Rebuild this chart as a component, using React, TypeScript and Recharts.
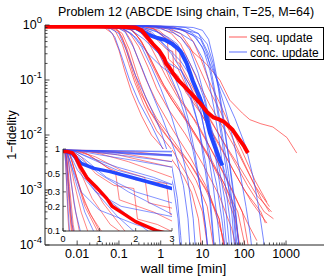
import React from "react";
import { LineChart, Line, XAxis, YAxis, CartesianGrid, Legend } from "recharts";

type Pt = [number, number];

// each run: [wall time (min), 1-fidelity]
const seqRuns: Pt[][] = [
  [[0.0017, 0.97], [0.04, 0.95], [0.07, 0.7], [0.1, 0.35], [0.14, 0.14], [0.2, 0.06], [0.35, 0.022], [0.6, 0.01], [1.5, 0.0045], [3.5, 0.0018], [5.5, 0.0009], [8, 0.0003], [10, 0.00006]],
  [[0.0017, 0.96], [0.05, 0.94], [0.08, 0.8], [0.12, 0.45], [0.17, 0.2], [0.24, 0.09], [0.4, 0.035], [0.8, 0.012], [2, 0.005], [6, 0.0012], [10, 0.0004], [14, 0.00007]],
  [[0.0017, 0.97], [0.06, 0.95], [0.1, 0.75], [0.15, 0.4], [0.22, 0.16], [0.3, 0.08], [0.5, 0.03], [1, 0.013], [3, 0.0045], [7, 0.0015], [13, 0.0005], [20, 0.00006]],
  [[0.0017, 0.96], [0.07, 0.94], [0.12, 0.7], [0.18, 0.35], [0.28, 0.12], [0.45, 0.045], [0.8, 0.02], [2, 0.008], [6, 0.0025], [15, 0.0008], [30, 0.00015], [40, 0.00006]],
  [[0.0017, 0.97], [0.08, 0.95], [0.14, 0.78], [0.2, 0.5], [0.3, 0.22], [0.45, 0.1], [0.8, 0.04], [2, 0.012], [5, 0.004], [12, 0.0012], [25, 0.0003], [35, 0.00007]],
  [[0.0017, 0.97], [0.1, 0.94], [0.18, 0.72], [0.3, 0.4], [0.5, 0.17], [0.8, 0.07], [1.5, 0.03], [4, 0.01], [10, 0.003], [25, 0.0008], [50, 0.0002], [70, 0.00007]],
  [[0.0017, 0.96], [0.12, 0.95], [0.2, 0.85], [0.35, 0.5], [0.6, 0.22], [1, 0.1], [1.8, 0.045], [4, 0.018], [10, 0.006], [30, 0.0015], [70, 0.0004], [110, 0.00008]],
  [[0.0017, 0.97], [0.15, 0.95], [0.3, 0.8], [0.5, 0.5], [0.8, 0.25], [1.3, 0.12], [2.5, 0.05], [6, 0.02], [15, 0.006], [40, 0.0015], [90, 0.0004], [130, 0.00008]],
  [[0.0017, 0.96], [0.2, 0.94], [0.4, 0.75], [0.7, 0.45], [1.1, 0.22], [1.7, 0.1], [3, 0.045], [8, 0.015], [20, 0.004], [50, 0.001], [120, 0.00025], [200, 0.00012]],
  [[0.0017, 0.97], [0.25, 0.95], [0.5, 0.8], [0.9, 0.5], [1.4, 0.36], [1.95, 0.33], [2.05, 0.14], [2.6, 0.12], [4, 0.06], [9, 0.025], [25, 0.007], [60, 0.002], [150, 0.0006], [350, 0.00025]],
  [[0.0017, 0.96], [0.3, 0.95], [0.7, 0.85], [1.2, 0.6], [2, 0.42], [2.85, 0.38], [2.95, 0.16], [3.5, 0.13], [6, 0.06], [12, 0.025], [30, 0.008], [80, 0.0025], [200, 0.0008], [450, 0.0004]],
  [[0.0017, 0.97], [0.4, 0.95], [0.9, 0.8], [1.6, 0.55], [2.25, 0.45], [2.35, 0.22], [3, 0.19], [5, 0.09], [10, 0.035], [22, 0.012], [50, 0.004], [120, 0.0012], [300, 0.0004], [500, 0.0003]],
  [[0.0017, 0.97], [0.5, 0.95], [1.5, 0.85], [3, 0.6], [6, 0.32], [12, 0.2], [26, 0.1], [45, 0.043], [90, 0.025], [136, 0.019], [250, 0.016], [484, 0.014], [1050, 0.009], [1800, 0.0047]],
  [[0.0017, 0.96], [0.6, 0.95], [1.5, 0.9], [3, 0.7], [5, 0.4], [8, 0.18], [14, 0.07], [28, 0.025], [60, 0.007], [130, 0.002], [250, 0.0007], [400, 0.0004]],
  [[0.0017, 0.97], [0.1, 0.95], [0.2, 0.8], [0.32, 0.55], [0.5, 0.3], [0.75, 0.16], [1.2, 0.08], [2.5, 0.035], [6, 0.012], [15, 0.004], [35, 0.0012], [60, 0.0004], [80, 0.00008]],
  [[0.0017, 0.96], [0.15, 0.95], [0.25, 0.7], [0.4, 0.4], [0.6, 0.2], [1, 0.09], [2, 0.04], [5, 0.015], [12, 0.005], [30, 0.0013], [60, 0.0003], [80, 0.00008]],
  [[0.0017, 0.97], [0.3, 0.96], [0.6, 0.9], [1, 0.7], [1.45, 0.5], [1.55, 0.24], [2.5, 0.17], [4, 0.08], [8, 0.03], [18, 0.01], [45, 0.003], [100, 0.001], [250, 0.0004], [320, 0.00025]],
  [[0.0017, 0.96], [0.08, 0.94], [0.12, 0.6], [0.16, 0.3], [0.22, 0.13], [0.32, 0.06], [0.6, 0.025], [1.5, 0.009], [5, 0.003], [12, 0.001], [25, 0.0003], [35, 0.00007]],
  [[0.0017, 0.97], [0.8, 0.96], [2, 0.92], [4, 0.75], [6, 0.5], [9, 0.25], [14, 0.1], [25, 0.04], [45, 0.015], [90, 0.005], [180, 0.0015], [350, 0.0006]],
  [[0.0017, 0.97], [0.5, 0.96], [1, 0.88], [1.8, 0.7], [3, 0.45], [5, 0.2], [8, 0.09], [15, 0.035], [35, 0.012], [80, 0.004], [180, 0.0012], [400, 0.0005]],
];

const concRuns: Pt[][] = [
  [[0.0017, 0.97], [0.05, 0.95], [0.1, 0.7], [0.15, 0.35], [0.25, 0.12], [0.5, 0.04], [1, 0.012], [1.8, 0.003], [2.5, 0.0007], [3, 0.00015], [3.3, 0.00006]],
  [[0.0017, 0.97], [0.08, 0.95], [0.14, 0.75], [0.22, 0.4], [0.35, 0.17], [0.6, 0.06], [1.1, 0.02], [2.2, 0.005], [3.5, 0.0012], [4.5, 0.0003], [5.2, 0.00006]],
  [[0.0017, 0.96], [0.1, 0.94], [0.2, 0.7], [0.35, 0.4], [0.6, 0.17], [1, 0.07], [1.8, 0.022], [3, 0.006], [4.5, 0.0015], [6, 0.0003], [7, 0.00006]],
  [[0.0017, 0.97], [0.15, 0.95], [0.3, 0.8], [0.5, 0.55], [0.9, 0.3], [1.5, 0.15], [2.5, 0.06], [4, 0.02], [6, 0.005], [9, 0.001], [12, 0.0002], [14, 0.00006]],
  [[0.0017, 0.97], [0.2, 0.95], [0.5, 0.75], [1, 0.5], [1.8, 0.3], [3, 0.16], [5, 0.06], [8, 0.015], [11, 0.003], [15, 0.0006], [19, 0.00008]],
  [[0.0017, 0.96], [0.3, 0.94], [0.7, 0.8], [1.5, 0.6], [2.5, 0.45], [4, 0.25], [6, 0.1], [9, 0.03], [13, 0.006], [18, 0.0012], [24, 0.0002], [28, 0.00006]],
  [[0.0017, 0.97], [0.4, 0.95], [1, 0.85], [2, 0.72], [3, 0.6], [5, 0.35], [8, 0.13], [12, 0.04], [18, 0.008], [25, 0.0015], [33, 0.0003], [40, 0.00006]],
  [[0.0017, 0.97], [0.5, 0.95], [1.2, 0.9], [3, 0.82], [6, 0.65], [10, 0.4], [15, 0.15], [20, 0.05], [28, 0.01], [38, 0.002], [50, 0.0004], [60, 0.00007]],
  [[0.0017, 0.97], [0.6, 0.96], [2, 0.88], [3, 0.85], [8, 0.7], [13, 0.45], [18, 0.2], [24, 0.07], [32, 0.015], [45, 0.003], [60, 0.0006], [75, 0.00008]],
  [[0.0017, 0.96], [0.3, 0.95], [0.8, 0.75], [1.5, 0.55], [2.5, 0.42], [4, 0.28], [7, 0.12], [11, 0.045], [16, 0.012], [24, 0.003], [35, 0.0006], [45, 0.00008]],
  [[0.0017, 0.97], [0.1, 0.95], [0.25, 0.6], [0.5, 0.3], [1, 0.18], [2, 0.12], [3, 0.09], [5, 0.05], [8, 0.015], [12, 0.003], [16, 0.0005], [20, 0.00006]],
  [[0.0017, 0.97], [0.15, 0.94], [0.4, 0.55], [0.9, 0.3], [1.6, 0.2], [3, 0.15], [5, 0.08], [9, 0.025], [14, 0.006], [22, 0.0012], [30, 0.00025], [36, 0.00006]],
  [[0.0017, 0.96], [0.25, 0.95], [0.6, 0.75], [1.2, 0.45], [2, 0.3], [3, 0.22], [6, 0.1], [12, 0.03], [20, 0.008], [35, 0.002], [55, 0.0005], [70, 0.00007]],
  [[0.0017, 0.97], [1, 0.96], [4, 0.9], [8, 0.7], [14, 0.3], [22, 0.1], [35, 0.03], [55, 0.008], [80, 0.002], [110, 0.0005], [140, 0.00015], [160, 0.00006]],
  [[0.0017, 0.97], [1, 0.95], [3, 0.85], [7, 0.6], [12, 0.3], [20, 0.12], [35, 0.05], [60, 0.02], [110, 0.006], [170, 0.0015], [230, 0.0004], [290, 0.00012], [320, 0.00006]],
  [[0.0017, 0.96], [2, 0.95], [6, 0.9], [10, 0.8], [14, 0.55], [18, 0.25], [24, 0.08], [32, 0.02], [42, 0.004], [55, 0.0008], [70, 0.00015], [80, 0.00006]],
  [[0.0017, 0.97], [0.8, 0.95], [2.5, 0.85], [5, 0.75], [9, 0.55], [13, 0.3], [17, 0.12], [22, 0.04], [30, 0.01], [42, 0.002], [55, 0.0004], [65, 0.00007]],
  [[0.0017, 0.97], [0.05, 0.95], [0.08, 0.6], [0.12, 0.25], [0.18, 0.1], [0.3, 0.04], [0.6, 0.015], [1.2, 0.005], [2, 0.0012], [2.6, 0.0003], [3, 0.00006]],
  [[0.0017, 0.96], [0.2, 0.95], [0.4, 0.65], [0.7, 0.4], [1.2, 0.25], [2, 0.13], [3, 0.06], [4.5, 0.02], [6.5, 0.005], [9, 0.001], [12, 0.0002], [14, 0.00006]],
  [[0.0017, 0.97], [0.5, 0.96], [1.5, 0.85], [3, 0.7], [6, 0.5], [10, 0.25], [14, 0.1], [19, 0.03], [25, 0.008], [34, 0.0015], [45, 0.0003], [52, 0.00006]],
];

const seqMedian: Pt[] = [
  [0.0017, 0.93], [0.1, 0.93], [0.25, 0.9], [0.35, 0.8], [0.48, 0.6], [0.65, 0.45], [0.9, 0.35], [1.2, 0.25], [1.35, 0.2], [1.6, 0.17],
  [2, 0.13], [2.6, 0.1], [3.5, 0.08], [5, 0.06], [8.7, 0.038], [13, 0.026], [18, 0.021], [26, 0.019], [34, 0.017], [53, 0.0123],
  [78, 0.0081], [100, 0.0062], [122, 0.0047],
];

const concMedian: Pt[] = [
  [0.0017, 0.97], [0.03, 0.96], [0.1, 0.92], [0.25, 0.88], [0.35, 0.78], [0.5, 0.67], [0.85, 0.58], [1.3, 0.53], [1.9, 0.45], [2.5, 0.38],
  [3, 0.33], [4.2, 0.2], [5.9, 0.095], [8.7, 0.047], [11.4, 0.026], [15, 0.011], [20, 0.006], [26, 0.0035], [30, 0.0028],
];

const legendOrder = ["seq. update", "conc. update"];
const xMajor = [0.01, 0.1, 1, 10, 100, 1000];
const yMajor = [0.0001, 0.001, 0.01, 0.1, 1];
const MINOR = [2, 3, 4, 5, 6, 7, 8, 9];
const insetXTicks = [0, 1, 2, 3];
const insetYTicks = [0.1, 0.2, 0.3, 0.5, 1];

const X_DOMAIN: [number, number] = [0.0017, 8100];
const Y_DOMAIN: [number, number] = [0.0001, 1];

const FONT = '"Liberation Sans", Arial, Helvetica, sans-serif';
const FS = 12.5;
const AXIS = "#222";
const RED_THIN = "rgb(255,50,50)";
const BLUE_THIN = "rgb(50,75,255)";
const RED_THICK = "#ff0000";
const BLUE_THICK = "#2248ff";

const xTicks = xMajor.flatMap((m, i) => (i < xMajor.length - 1 ? [m, ...MINOR.map((k) => k * m)] : [m]));
const yTicks = yMajor.flatMap((m, i) => (i < yMajor.length - 1 ? [m, ...MINOR.map((k) => k * m)] : [m]));

const toRows = (run: Pt[]) => run.map(([t, f]) => ({ t, f }));
const isMajor = (list: number[], v: number) => list.some((m) => Math.abs(v - m) <= m * 1e-9);

function BottomTick(p: any) {
  const { x, y, payload } = p;
  const major = isMajor(xMajor, payload.value);
  return (
    <g>
      <line x1={x} x2={x} y1={y} y2={y - (major ? 4.5 : 2.5)} stroke={AXIS} strokeWidth={0.8} />
      {major && (
        <text x={x} y={y + 13} textAnchor="middle" fontSize={FS} fontFamily={FONT} fill="#000">
          {String(payload.value)}
        </text>
      )}
    </g>
  );
}

function TopTick(p: any) {
  const { x, y, payload } = p;
  const major = isMajor(xMajor, payload.value);
  return <line x1={x} x2={x} y1={y} y2={y + (major ? 4.5 : 2.5)} stroke={AXIS} strokeWidth={0.8} />;
}

function LeftTick(p: any) {
  const { x, y, payload } = p;
  const v = payload.value;
  const major = isMajor(yMajor, v);
  const exp = Math.round(Math.log10(v));
  return (
    <g>
      <line x1={x} x2={x + (major ? 4.5 : 2.5)} y1={y} y2={y} stroke={AXIS} strokeWidth={0.8} />
      {major && (
        <text x={x - 3} y={y + 4} textAnchor="end" fontSize={FS} fontFamily={FONT} fill="#000">
          10
          <tspan dy={-6} fontSize={9.5}>
            {String(exp)}
          </tspan>
        </text>
      )}
    </g>
  );
}

function RightTick(p: any) {
  const { x, y, payload } = p;
  const major = isMajor(yMajor, payload.value);
  return <line x1={x} x2={x - (major ? 4.5 : 2.5)} y1={y} y2={y} stroke={AXIS} strokeWidth={0.8} />;
}

function InsetBottomTick(p: any) {
  const { x, y, payload } = p;
  return (
    <g>
      <line x1={x} x2={x} y1={y} y2={y - 3} stroke={AXIS} strokeWidth={0.7} />
      <text x={x} y={y + 11} textAnchor="middle" fontSize={9} fontFamily={FONT} fill="#000">
        {String(payload.value)}
      </text>
    </g>
  );
}

function InsetTopTick(p: any) {
  const { x, y } = p;
  return <line x1={x} x2={x} y1={y} y2={y + 3} stroke={AXIS} strokeWidth={0.7} />;
}

function InsetLeftTick(p: any) {
  const { x, y, payload } = p;
  return (
    <g>
      <line x1={x} x2={x + 3} y1={y} y2={y} stroke={AXIS} strokeWidth={0.7} />
      <text x={x - 3} y={y + 3.3} textAnchor="end" fontSize={9} fontFamily={FONT} fill="#000">
        {String(payload.value)}
      </text>
    </g>
  );
}

function InsetRightTick(p: any) {
  const { x, y } = p;
  return <line x1={x} x2={x - 3} y1={y} y2={y} stroke={AXIS} strokeWidth={0.7} />;
}

function XTitle(p: any) {
  const vb = p.viewBox;
  return (
    <text x={vb.x + vb.width / 2 - 1} y={vb.y + 28} textAnchor="middle" fontSize={13.5} fontFamily={FONT} fill="#000">
      wall time [min]
    </text>
  );
}

function YTitle(p: any) {
  const vb = p.viewBox;
  const cx = vb.x + 11;
  const cy = vb.y + vb.height / 2;
  return (
    <text x={cx} y={cy} transform={`rotate(-90, ${cx}, ${cy})`} textAnchor="middle" fontSize={FS} fontFamily={FONT} fill="#000">
      1−fidelity
    </text>
  );
}

function LegendBox(p: any) {
  const items = (p.payload || [])
    .filter((e: any) => e.type !== "none")
    .sort((a: any, b: any) => legendOrder.indexOf(a.value) - legendOrder.indexOf(b.value));
  return (
    <svg width={99} height={33} style={{ display: "block" }}>
      <rect x={0.5} y={0.5} width={98} height={32} fill="#fff" stroke="#000" strokeWidth={1} />
      {items.map((e: any, i: number) => (
        <g key={i}>
          <line x1={4} x2={22} y1={10 + i * 15} y2={10 + i * 15} stroke={e.color} strokeOpacity={0.8} strokeWidth={1} />
          <text x={25} y={14.5 + i * 15} fontSize={12} fontFamily={FONT} fill="#000">
            {e.value}
          </text>
        </g>
      ))}
    </svg>
  );
}

function runLines(runs: Pt[][], color: string, name: string, prefix: string, width: number) {
  return runs.map((run, i) => (
    <Line
      key={`${prefix}${i}`}
      data={toRows(run)}
      dataKey="f"
      name={name}
      type="linear"
      stroke={color}
      strokeOpacity={0.75}
      strokeWidth={width}
      dot={false}
      activeDot={false}
      legendType={i === 0 ? "line" : "none"}
      isAnimationActive={false}
    />
  ));
}

function medianLine(run: Pt[], color: string, key: string, width: number) {
  return (
    <Line
      key={key}
      data={toRows(run)}
      dataKey="f"
      type="linear"
      stroke={color}
      strokeWidth={width}
      strokeLinejoin="round"
      dot={false}
      activeDot={false}
      legendType="none"
      isAnimationActive={false}
    />
  );
}

export default function App() {
  return (
    <div style={{ position: "absolute", left: 0, top: 0, width: 332, height: 276, background: "#fff", fontFamily: FONT }}>
      <div style={{ position: "absolute", left: 0, top: 0 }}>
        <LineChart width={332} height={276} margin={{ top: 25, right: 8, bottom: 0, left: 5 }}>
          <XAxis
            type="number"
            dataKey="t"
            scale="log"
            domain={X_DOMAIN}
            allowDataOverflow
            ticks={xTicks}
            interval={0}
            height={31}
            tickSize={0}
            tickMargin={0}
            tickLine={false}
            axisLine={{ stroke: AXIS, strokeWidth: 1 }}
            tick={(p: any) => <BottomTick {...p} />}
            label={(p: any) => <XTitle {...p} />}
          />
          <XAxis
            xAxisId="top"
            orientation="top"
            type="number"
            scale="log"
            domain={X_DOMAIN}
            allowDataOverflow
            ticks={xTicks}
            interval={0}
            height={0}
            tickSize={0}
            tickMargin={0}
            tickLine={false}
            axisLine={{ stroke: AXIS, strokeWidth: 1 }}
            tick={(p: any) => <TopTick {...p} />}
          />
          <YAxis
            type="number"
            scale="log"
            domain={Y_DOMAIN}
            allowDataOverflow
            ticks={yTicks}
            interval={0}
            width={40}
            tickSize={0}
            tickMargin={0}
            tickLine={false}
            axisLine={{ stroke: AXIS, strokeWidth: 1 }}
            tick={(p: any) => <LeftTick {...p} />}
            label={(p: any) => <YTitle {...p} />}
          />
          <YAxis
            yAxisId="right"
            orientation="right"
            type="number"
            scale="log"
            domain={Y_DOMAIN}
            allowDataOverflow
            ticks={yTicks}
            interval={0}
            width={0}
            tickSize={0}
            tickMargin={0}
            tickLine={false}
            axisLine={{ stroke: AXIS, strokeWidth: 1 }}
            tick={(p: any) => <RightTick {...p} />}
          />
          {runLines(seqRuns, RED_THIN, "seq. update", "s", 0.9)}
          {runLines(concRuns, BLUE_THIN, "conc. update", "c", 0.9)}
          {medianLine(concMedian, BLUE_THICK, "cm", 4)}
          {medianLine(seqMedian, RED_THICK, "sm", 4)}
          <Legend
            align="center"
            verticalAlign="middle"
            layout="horizontal"
            wrapperStyle={{ position: "absolute", left: 225, top: 27, width: 99, height: 33, margin: 0, padding: 0 }}
            content={(p: any) => <LegendBox {...p} />}
          />
        </LineChart>
      </div>

      <svg width={332} height={22} style={{ position: "absolute", left: 0, top: 0 }}>
        <text x={186} y={16} textAnchor="middle" fontSize={FS} fontFamily={FONT} fill="#000">
          Problem 12 (ABCDE Ising chain, T=25, M=64)
        </text>
      </svg>

      <div style={{ position: "absolute", left: 40, top: 140 }}>
        <LineChart width={145} height={110} margin={{ top: 9, right: 13, bottom: 0, left: 3 }}>
          <CartesianGrid fill="#fff" fillOpacity={1} horizontal={false} vertical={false} />
          <XAxis
            type="number"
            dataKey="t"
            domain={[0, 3]}
            allowDataOverflow
            ticks={insetXTicks}
            interval={0}
            height={19}
            tickSize={0}
            tickMargin={0}
            tickLine={false}
            axisLine={{ stroke: AXIS, strokeWidth: 0.9 }}
            tick={(p: any) => <InsetBottomTick {...p} />}
          />
          <XAxis
            xAxisId="top"
            orientation="top"
            type="number"
            domain={[0, 3]}
            allowDataOverflow
            ticks={insetXTicks}
            interval={0}
            height={0}
            tickSize={0}
            tickMargin={0}
            tickLine={false}
            axisLine={{ stroke: AXIS, strokeWidth: 0.9 }}
            tick={(p: any) => <InsetTopTick {...p} />}
          />
          <YAxis
            type="number"
            scale="log"
            domain={[0.1, 1]}
            allowDataOverflow
            ticks={insetYTicks}
            interval={0}
            width={20}
            tickSize={0}
            tickMargin={0}
            tickLine={false}
            axisLine={{ stroke: AXIS, strokeWidth: 0.9 }}
            tick={(p: any) => <InsetLeftTick {...p} />}
          />
          <YAxis
            yAxisId="right"
            orientation="right"
            type="number"
            scale="log"
            domain={[0.1, 1]}
            allowDataOverflow
            ticks={insetYTicks}
            interval={0}
            width={0}
            tickSize={0}
            tickMargin={0}
            tickLine={false}
            axisLine={{ stroke: AXIS, strokeWidth: 0.9 }}
            tick={(p: any) => <InsetRightTick {...p} />}
          />
          {runLines(seqRuns, RED_THIN, "seq. update", "is", 0.8)}
          {runLines(concRuns, BLUE_THIN, "conc. update", "ic", 0.8)}
          {medianLine(concMedian, BLUE_THICK, "icm", 3.5)}
          {medianLine(seqMedian, RED_THICK, "ism", 3.5)}
        </LineChart>
      </div>
    </div>
  );
}
